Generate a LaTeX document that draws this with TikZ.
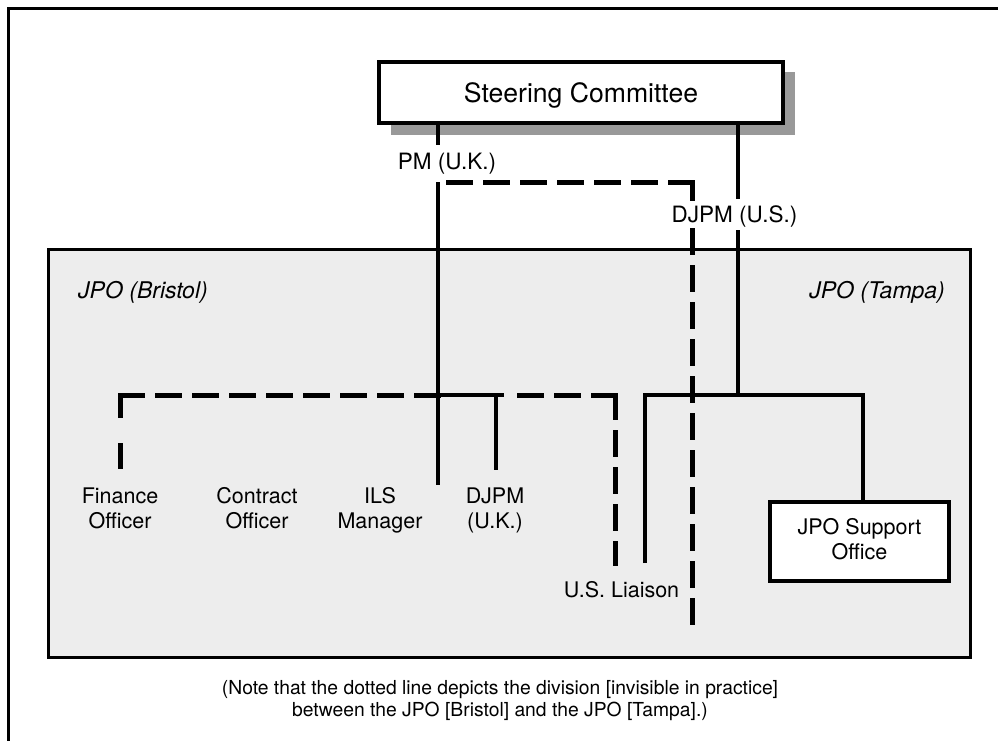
\documentclass[tikz,border=0pt]{standalone}
\usepackage{fontspec}
\setmainfont{TeX Gyre Heros}
\newcommand{\fntsc}{\fontsize{26.6}{32}\selectfont}
\newcommand{\fntlbl}{\fontsize{22.5}{27}\selectfont}
\newcommand{\fntjpo}{\fontsize{23}{27}\selectfont\itshape}
\newcommand{\fntsm}{\fontsize{21.5}{25}\selectfont}
\newcommand{\fntnote}{\fontsize{19.3}{22}\selectfont}
\begin{document}
\begin{tikzpicture}[x=1pt,y=-1pt,
  conn/.style={line width=4.8pt},
  dconn/.style={line width=5pt, line cap=rect, dash pattern=on 22pt off 15pt},
  dfin/.style={line width=5pt, line cap=rect, dash pattern=on 20.5pt off 30pt},
  boxnode/.style={draw, line width=3.2pt, fill=white, inner sep=0pt},
  sm/.style={font=\fntsm, align=center, inner sep=0pt, anchor=north}
]
\useasboundingbox (0,0) rectangle (998,740);
\clip (0,0) rectangle (998,740);
\fill[white] (0,0) rectangle (998,740);
% outer frame (cropped)
\draw[line width=3pt] (1010,8) -- (8,8) -- (8,760);
% shaded region
\node[draw, line width=3pt, fill=black!7, minimum width=922pt, minimum height=408pt, inner sep=0pt] (jpo) at (509,453) {};
% shadow and steering committee
\fill[black!40] (391,72) rectangle (795,135);
\node[boxnode, minimum width=404pt, minimum height=61pt, font=\fntsc, text height=19.1pt, text depth=0pt] (sc) at (581,92.5) {Steering Committee};
% labels on lines
\node[font=\fntlbl, anchor=base, text height=16.2pt, text depth=5pt, inner xsep=0pt, inner ysep=7.8pt] (pm) at (447,169) {PM (U.K.)};
\node[font=\fntlbl, anchor=base, text height=16.2pt, text depth=1pt, inner xsep=0pt, inner ysep=6.9pt] (djus) at (734.5,222.1) {DJPM (U.S.)};
% region titles
\node[font=\fntjpo, anchor=base, inner sep=0pt] (bristol) at (143,298) {JPO (Bristol)};
\node[font=\fntjpo, anchor=base, inner sep=0pt] (tampa) at (877,298) {JPO (Tampa)};
% staff labels
\node[sm] (fin) at (120,485.7) {\strut Finance\\\strut Officer};
\node[sm] (con) at (257,485.7) {\strut Contract\\\strut Officer};
\node[sm] (ils) at (380,485.7) {\strut ILS\\\strut Manager};
\node[sm] (djuk) at (495,485.7) {\strut DJPM\\\strut (U.K.)};
\node[font=\fntsm, anchor=base, inner sep=0pt] (usl) at (621.5,597.7) {U.S. Liaison};
\node[boxnode, font=\fntsm, align=center, minimum width=179pt, minimum height=79pt] (jso) at (859.5,541.5) {\strut JPO Support\\\strut Office};
% note
\node[font=\fntnote, align=center, inner sep=0pt, anchor=north] (note) at (500,678.6)
  {\strut (Note that the dotted line depicts the division [invisible in practice]\\\strut between the JPO [Bristol] and the JPO [Tampa].)};
% coordinates
\coordinate (pmx) at (438,0);
\coordinate (usx) at (738,0);
\coordinate (divx) at (692,0);
\coordinate (pmcorner) at (438,182);
\coordinate (divtop) at (692,182);
\coordinate (divend) at (692,628);
\coordinate (ilsend) at (438,485);
\coordinate (bristolM) at (438,395);
\coordinate (bristolS) at (504,395);
\coordinate (djukt) at (496,395);
\coordinate (djukend) at (496,470);
\coordinate (finc) at (120,395);
\coordinate (finend) at (120,468);
\coordinate (lia) at (615,395);
\coordinate (liaend) at (615,563);
\coordinate (liaS) at (506,395);
\coordinate (tampaM) at (738,395);
\coordinate (tampaL) at (645,395);
\coordinate (tampaR) at (863,395);
\coordinate (usend) at (645,563);
% solid connectors
\draw[conn] (sc.south -| pmx) -- (pm.north -| pmx);
\draw[conn] (pm.south -| pmx) -- (ilsend);
\draw[conn] (sc.south -| usx) -- (djus.north -| usx);
\draw[conn] (djus.south -| usx) -- (tampaM);
\draw[conn] (usend) -- (tampaL) -- (tampaR) -- (jso.north -| tampaR);
\draw[conn] (bristolM) -- (bristolS);
\draw[conn] (djukt) -- (djukend);
% dashed connectors
\draw[dconn] (divtop) -- (pmcorner);
\draw[dconn] (divtop) -- (djus.north -| divx);
\draw[dconn] (djus.south -| divx) -- (divend);
\draw[dconn] (finc) -- (bristolM);
\draw[dfin] (finc) -- (finend);
\draw[dconn] (lia) -- (liaS);
\draw[dconn] (lia) -- (liaend);
\end{tikzpicture}
\end{document}
